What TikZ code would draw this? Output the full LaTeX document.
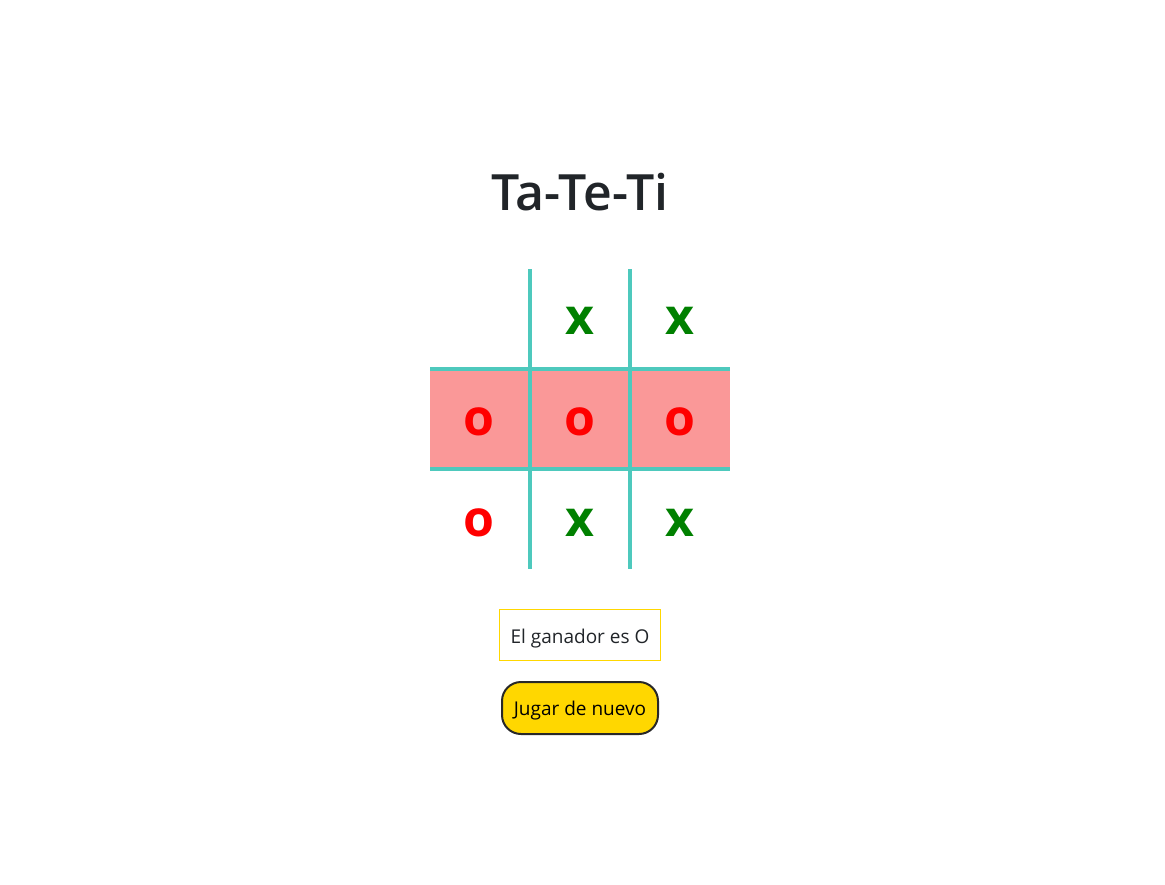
\documentclass[tikz,border=0pt]{standalone}
\usepackage{fontspec}
\setmainfont{Open Sans}
\IfFontExistsTF{Open Sans SemiBold}
  {\newfontfamily\titlefont{Open Sans SemiBold}}
  {\IfFontExistsTF{Open Sans Semibold}
    {\newfontfamily\titlefont{Open Sans Semibold}}
    {\newfontfamily\titlefont{Open Sans}[FakeBold=3]}}
\definecolor{ink}{RGB}{33,37,41}
\definecolor{teal}{RGB}{78,201,189}
\definecolor{pinkcell}{RGB}{250,152,152}
\definecolor{gold}{RGB}{255,215,0}
\definecolor{xgreen}{RGB}{0,128,0}
\definecolor{ored}{RGB}{255,0,0}
\begin{document}
\begin{tikzpicture}[x=1pt,y=-1pt,
  gridline/.style={teal,line width=4pt},
  xmark/.style={anchor=base,inner sep=0pt,text=xgreen,font=\fontsize{50}{50}\selectfont\bfseries},
  omark/.style={anchor=base,inner sep=0pt,text=ored,font=\fontsize{50}{50}\selectfont\bfseries},
  lbl/.style={anchor=base,inner sep=0pt,text=ink,font=\fontsize{19}{19}\selectfont}]
\useasboundingbox (0,0) rectangle (1165,884);
\fill[white] (0,0) rectangle (1165,884);
% winning row
\fill[pinkcell] (430,369) rectangle (730,469);
% grid
\draw[gridline] (530,269) -- (530,569);
\draw[gridline] (630,269) -- (630,569);
\draw[gridline] (430,369) -- (730,369);
\draw[gridline] (430,469) -- (730,469);
% title
\node[anchor=base,inner sep=0pt,text=ink,font=\titlefont\fontsize{50}{50}\selectfont] (title) at (580,210) {Ta-Te-Ti};
% marks
\node[xmark] (c12) at (580,334) {x};
\node[xmark] (c13) at (680,334) {x};
\node[omark] (c21) at (479,435) {o};
\node[omark] (c22) at (580,435) {o};
\node[omark] (c23) at (680,435) {o};
\node[omark] (c31) at (479,536) {o};
\node[xmark] (c32) at (580,536) {x};
\node[xmark] (c33) at (680,536) {x};
% winner box
\draw[gold,line width=1pt] (499.5,609.5) rectangle (660.5,660.5);
\node[lbl] (winner) at (580,643) {El ganador es O};
% button
\draw[fill=gold,draw={rgb,255:red,40;green,40;blue,40},line width=2pt,rounded corners=19pt] (502,682) rectangle (658,734);
\node[lbl,text=black] (again) at (580,715) {Jugar de nuevo};
\end{tikzpicture}
\end{document}
